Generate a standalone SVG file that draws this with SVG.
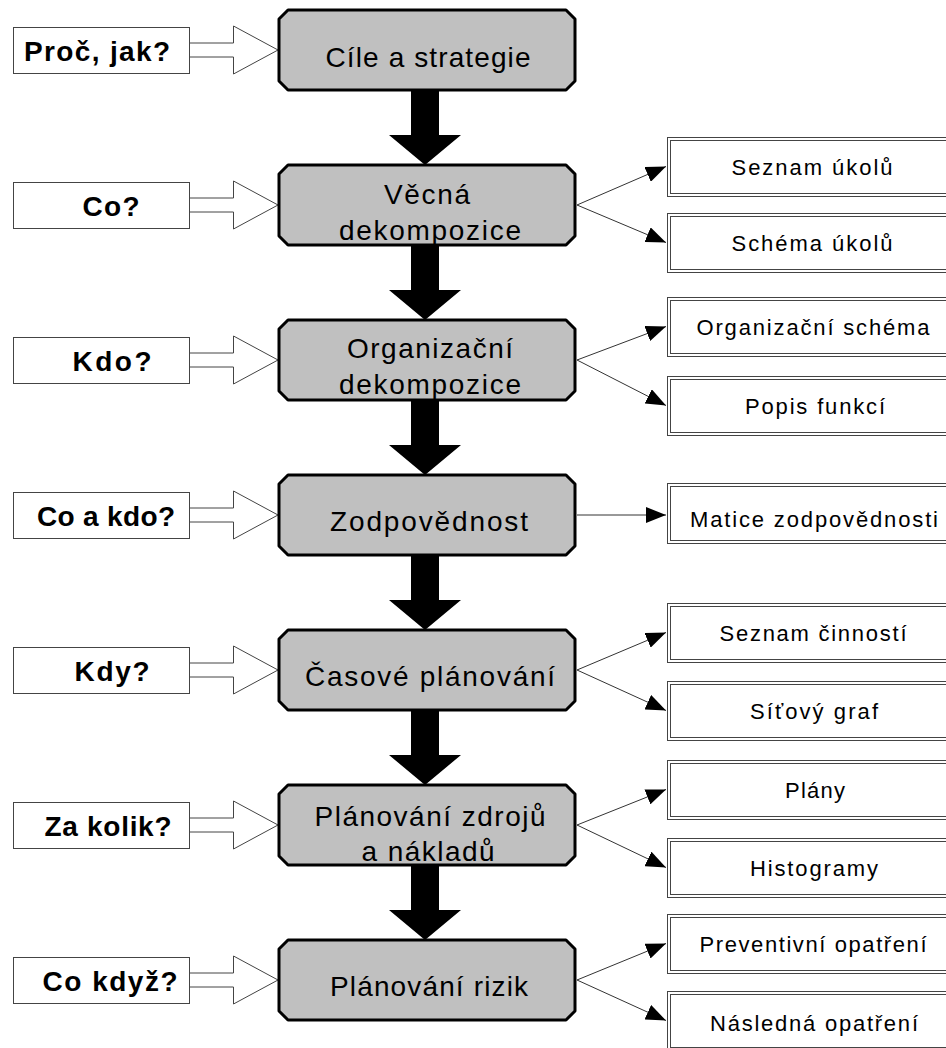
<svg xmlns="http://www.w3.org/2000/svg" width="946" height="1048" viewBox="0 0 946 1048">
<style>
.main{fill:#c0c0c0;stroke:#000;stroke-width:3;stroke-linejoin:round}
.mt{font-family:"Liberation Sans",Arial,sans-serif;font-size:28px;fill:#000;text-anchor:middle}
.q{fill:#fff;stroke:#444;stroke-width:1}
.qt{font-family:"Liberation Sans",Arial,sans-serif;font-size:28px;font-weight:bold;fill:#000;text-anchor:middle}
.ha{fill:#fff;stroke:#444;stroke-width:1}
.ro{fill:#fff;stroke:#444;stroke-width:1}
.ri{fill:none;stroke:#444;stroke-width:1}
.rt{font-family:"Liberation Sans",Arial,sans-serif;font-size:22px;fill:#000;text-anchor:middle}
.ln{stroke:#333;stroke-width:1;fill:none;marker-end:url(#ah)}
.big{fill:#000}
</style>
<defs>
<marker id="ah" markerWidth="20" markerHeight="16" refX="20" refY="8" orient="auto" markerUnits="userSpaceOnUse">
<path d="M0,0 L20,8 L0,16 Z" fill="#000"/>
</marker>
<path id="mb" d="M9,0 H287 L296,9 V71 L287,80 H9 L0,71 V9 Z"/>
</defs>

<g id="connectors">
<path class="big" d="M411,89 H439 V135 H461 L425,165 L389,135 H411 Z"/>
<path class="big" d="M411,244 H439 V290 H461 L425,320 L389,290 H411 Z"/>
<path class="big" d="M411,399 H439 V445 H461 L425,475 L389,445 H411 Z"/>
<path class="big" d="M411,554 H439 V600 H461 L425,630 L389,600 H411 Z"/>
<path class="big" d="M411,709 H439 V755 H461 L425,785 L389,755 H411 Z"/>
<path class="big" d="M411,864 H439 V910 H461 L425,940 L389,910 H411 Z"/>
<polygon class="ha" points="189.5,43 233.5,43 233.5,26 278,50 233.5,74 233.5,57 189.5,57"/>
<polygon class="ha" points="189.5,198 233.5,198 233.5,181 278,205 233.5,229 233.5,212 189.5,212"/>
<polygon class="ha" points="189.5,353 233.5,353 233.5,336 278,360 233.5,384 233.5,367 189.5,367"/>
<polygon class="ha" points="189.5,508 233.5,508 233.5,491 278,515 233.5,539 233.5,522 189.5,522"/>
<polygon class="ha" points="189.5,663 233.5,663 233.5,646 278,670 233.5,694 233.5,677 189.5,677"/>
<polygon class="ha" points="189.5,818 233.5,818 233.5,801 278,825 233.5,849 233.5,832 189.5,832"/>
<polygon class="ha" points="189.5,973 233.5,973 233.5,956 278,980 233.5,1004 233.5,987 189.5,987"/>
<line class="ln" x1="577" y1="205" x2="666" y2="166.5"/>
<line class="ln" x1="577" y1="205" x2="666" y2="242.5"/>
<line class="ln" x1="577" y1="360" x2="666" y2="326.5"/>
<line class="ln" x1="577" y1="360" x2="666" y2="405.5"/>
<line class="ln" x1="577" y1="515" x2="666" y2="515"/>
<line class="ln" x1="577" y1="670" x2="666" y2="632.5"/>
<line class="ln" x1="577" y1="670" x2="666" y2="710.5"/>
<line class="ln" x1="577" y1="825" x2="666" y2="789.5"/>
<line class="ln" x1="577" y1="825" x2="666" y2="867.5"/>
<line class="ln" x1="577" y1="980" x2="666" y2="943.5"/>
<line class="ln" x1="577" y1="980" x2="666" y2="1020.5"/>
</g>

<g id="cile"><use href="#mb" x="279" y="10" class="main"/><text class="mt" x="428" y="67" textLength="205">Cíle a strategie</text></g>
<g id="vecna"><use href="#mb" x="279" y="165" class="main"/><text class="mt" x="427" y="204" textLength="86">Věcná</text><text class="mt" x="430" y="240" textLength="182">dekompozice</text></g>
<g id="organizacni"><use href="#mb" x="279" y="320" class="main"/><text class="mt" x="430" y="358" textLength="166">Organizační</text><text class="mt" x="430" y="394" textLength="182">dekompozice</text></g>
<g id="zodpovednost"><use href="#mb" x="279" y="475" class="main"/><text class="mt" x="429" y="531" textLength="198">Zodpovědnost</text></g>
<g id="casove"><use href="#mb" x="279" y="630" class="main"/><text class="mt" x="430" y="686" textLength="250">Časové plánování</text></g>
<g id="zdroje"><use href="#mb" x="279" y="785" class="main"/><text class="mt" x="430" y="826" textLength="231">Plánování zdrojů</text><text class="mt" x="428" y="861" textLength="133">a nákladů</text></g>
<g id="rizika"><use href="#mb" x="279" y="940" class="main"/><text class="mt" x="429" y="996" textLength="198">Plánování rizik</text></g>

<g id="q-proc"><rect class="q" x="13.5" y="27.5" width="176" height="46"/><text class="qt" x="97" y="61" textLength="146">Proč, jak?</text></g>
<g id="q-co"><rect class="q" x="13.5" y="182.5" width="176" height="46"/><text class="qt" x="111" y="216" textLength="57">Co?</text></g>
<g id="q-kdo"><rect class="q" x="13.5" y="337.5" width="176" height="46"/><text class="qt" x="112" y="371" textLength="79">Kdo?</text></g>
<g id="q-coakdo"><rect class="q" x="13.5" y="492.5" width="176" height="46"/><text class="qt" x="106" y="526" textLength="138">Co a kdo?</text></g>
<g id="q-kdy"><rect class="q" x="13.5" y="647.5" width="176" height="46"/><text class="qt" x="112" y="681" textLength="75">Kdy?</text></g>
<g id="q-zakolik"><rect class="q" x="13.5" y="802.5" width="176" height="46"/><text class="qt" x="108" y="836" textLength="127">Za kolik?</text></g>
<g id="q-cokdyz"><rect class="q" x="13.5" y="957.5" width="176" height="46"/><text class="qt" x="110" y="991" textLength="135">Co když?</text></g>

<g id="o-seznam-ukolu"><rect class="ro" x="667.5" y="137.5" width="290" height="59"/><rect class="ri" x="670.5" y="140.5" width="290" height="53"/><text class="rt" x="812" y="175" textLength="161">Seznam úkolů</text></g>
<g id="o-schema-ukolu"><rect class="ro" x="667.5" y="213.5" width="290" height="59"/><rect class="ri" x="670.5" y="216.5" width="290" height="53"/><text class="rt" x="812" y="251" textLength="161">Schéma úkolů</text></g>
<g id="o-org-schema"><rect class="ro" x="667.5" y="297.5" width="290" height="59"/><rect class="ri" x="670.5" y="300.5" width="290" height="53"/><text class="rt" x="813" y="335" textLength="233">Organizační schéma</text></g>
<g id="o-popis"><rect class="ro" x="667.5" y="376.5" width="290" height="59"/><rect class="ri" x="670.5" y="379.5" width="290" height="53"/><text class="rt" x="815" y="414" textLength="140">Popis funkcí</text></g>
<g id="o-matice"><rect class="ro" x="667.5" y="483.5" width="290" height="60"/><rect class="ri" x="670.5" y="486.5" width="290" height="54"/><text class="rt" x="814" y="527" textLength="248">Matice zodpovědnosti</text></g>
<g id="o-seznam-cinnosti"><rect class="ro" x="667.5" y="603.5" width="290" height="59"/><rect class="ri" x="670.5" y="606.5" width="290" height="53"/><text class="rt" x="813" y="641" textLength="187">Seznam činností</text></g>
<g id="o-sitovy"><rect class="ro" x="667.5" y="681.5" width="290" height="59"/><rect class="ri" x="670.5" y="684.5" width="290" height="53"/><text class="rt" x="814" y="719" textLength="128">Síťový graf</text></g>
<g id="o-plany"><rect class="ro" x="667.5" y="760.5" width="290" height="59"/><rect class="ri" x="670.5" y="763.5" width="290" height="53"/><text class="rt" x="815" y="798" textLength="60">Plány</text></g>
<g id="o-histogramy"><rect class="ro" x="667.5" y="838.5" width="290" height="59"/><rect class="ri" x="670.5" y="841.5" width="290" height="53"/><text class="rt" x="814" y="876" textLength="128">Histogramy</text></g>
<g id="o-preventivni"><rect class="ro" x="667.5" y="914.5" width="290" height="59"/><rect class="ri" x="670.5" y="917.5" width="290" height="53"/><text class="rt" x="813" y="952" textLength="227">Preventivní opatření</text></g>
<g id="o-nasledna"><rect class="ro" x="667.5" y="991.5" width="290" height="59"/><rect class="ri" x="670.5" y="994.5" width="290" height="53"/><text class="rt" x="814" y="1031" textLength="208">Následná opatření</text></g>
</svg>
